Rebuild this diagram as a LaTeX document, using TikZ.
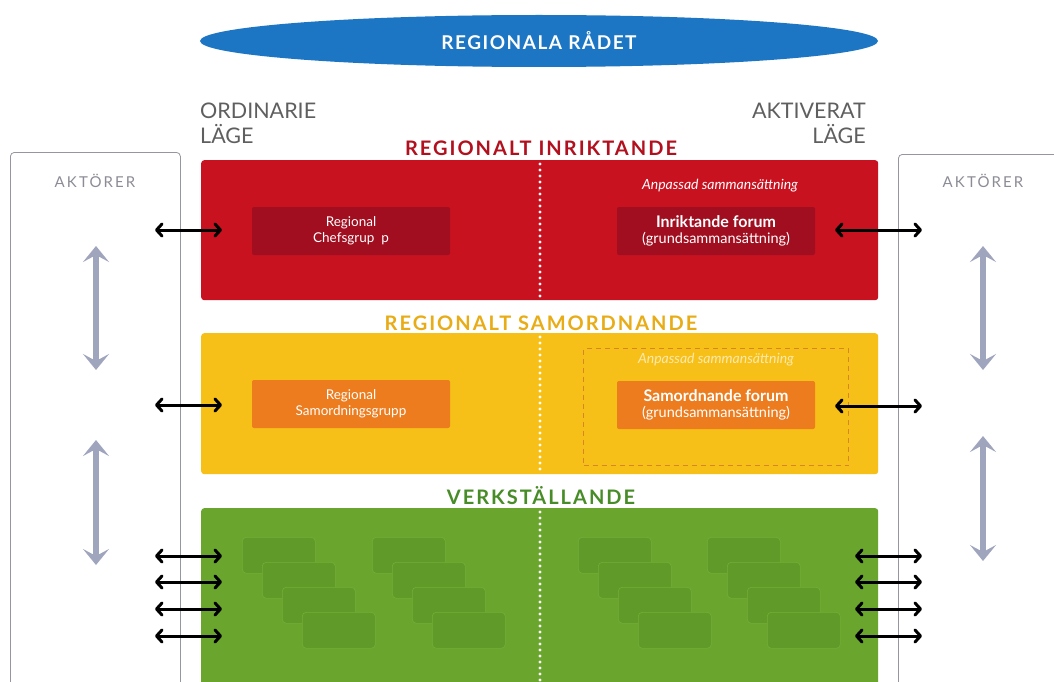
\documentclass[tikz,border=0pt]{standalone}
\usepackage{fontspec}
\setmainfont{Lato}
\usetikzlibrary{arrows.meta,shapes.geometric}
\definecolor{rblue}{RGB}{28,118,196}
\definecolor{rred}{RGB}{200,18,32}
\definecolor{rredbox}{RGB}{160,14,32}
\definecolor{rredtxt}{RGB}{178,16,30}
\definecolor{ryel}{RGB}{246,192,24}
\definecolor{rorange}{RGB}{236,124,30}
\definecolor{rdash}{RGB}{214,134,38}
\definecolor{ryeltxt}{RGB}{232,172,22}
\definecolor{rgreen}{RGB}{106,166,46}
\definecolor{rgreenbox}{RGB}{96,154,40}
\definecolor{rgreenedge}{RGB}{116,174,56}
\definecolor{rgreentxt}{RGB}{72,140,40}
\definecolor{rgraytxt}{RGB}{95,95,95}
\definecolor{raktxt}{RGB}{140,140,150}
\definecolor{rgrayarrow}{RGB}{160,165,190}
\definecolor{rboxline}{RGB}{150,150,160}
\begin{document}
\begin{tikzpicture}[x=1pt,y=-1pt,
  band/.style={fill=#1,draw=none,rounded corners=3pt,anchor=north west,inner sep=0pt},
  inbox/.style={fill=#1,draw=none,rounded corners=2pt,minimum width=198pt,minimum height=48pt,inner sep=0pt,text=white,align=center,font=\fontsize{13.5}{16}\selectfont},
  gbox/.style={fill=rgreenbox,draw=rgreenedge,line width=0.6pt,rounded corners=4pt,minimum width=73pt,minimum height=36pt,anchor=north west,inner sep=0pt},
  actorbox/.style={draw=rboxline,line width=0.8pt,rounded corners=4pt,fill=white,anchor=north west,inner sep=0pt},
  aktlabel/.style={text=raktxt,font=\fontsize{15}{17}\selectfont\addfontfeature{LetterSpace=14}},
  levtitle/.style={text=#1,font=\fontsize{20}{22}\selectfont\bfseries\addfontfeature{LetterSpace=10}},
  mode/.style={text=rgraytxt,font=\fontsize{21.5}{25}\selectfont,inner sep=0pt},
  dotline/.style={white,line width=3.4pt,line cap=round,dash pattern=on 0pt off 6pt},
  biarrow/.style={black,line width=3pt,{Straight Barb[length=5.5pt,width=12pt,line cap=round,line join=round]}-{Straight Barb[length=5.5pt,width=12pt,line cap=round,line join=round]}},
  grayarrow/.style={rgrayarrow,line width=6pt,{Stealth[length=16pt,width=26pt,inset=7pt]}-{Stealth[length=16pt,width=26pt,inset=7pt]}},
  note/.style={text=#1,font=\fontsize{14}{16}\selectfont\itshape}
]
\useasboundingbox (0,0) rectangle (1054,682);
\clip (0,0) rectangle (1054,682);
\fill[white] (0,0) rectangle (1054,682);

% Regional council
\node[ellipse,fill=rblue,minimum width=678pt,minimum height=52pt,inner sep=0pt,text=white,
  font=\fontsize{19}{21}\selectfont\bfseries\addfontfeature{LetterSpace=8}] (rad) at (539,41) {REGIONALA RÅDET};

% mode labels
\node[mode,anchor=north west,align=left] (ord) at (200,103) {ORDINARIE\\LÄGE};
\node[mode,anchor=north east,align=right] (akt) at (866,103) {AKTIVERAT\\LÄGE};

% actor boxes
\node[actorbox,minimum width=170pt,minimum height=560pt] (aktL) at (10,152) {};
\node[actorbox,minimum width=180pt,minimum height=560pt] (aktR) at (898,154) {};
\node[aktlabel] (aktLt) at (95,181) {AKTÖRER};
\node[aktlabel] (aktRt) at (983,181) {AKTÖRER};

% gray vertical arrows
\coordinate (la1) at (96,246); \coordinate (la2) at (96,370);
\coordinate (la3) at (96,440); \coordinate (la4) at (96,565);
\coordinate (ra1) at (983,246); \coordinate (ra2) at (983,370);
\coordinate (ra3) at (983,436); \coordinate (ra4) at (983,561);
\draw[grayarrow] (la1) -- (la2);
\draw[grayarrow] (la3) -- (la4);
\draw[grayarrow] (ra1) -- (ra2);
\draw[grayarrow] (ra3) -- (ra4);

% level titles
\node[levtitle=rredtxt] (t1) at (541,148) {REGIONALT INRIKTANDE};
\node[levtitle=ryeltxt] (t2) at (541,323) {REGIONALT SAMORDNANDE};
\node[levtitle=rgreentxt] (t3) at (541,496) {VERKSTÄLLANDE};

% bands
\node[band=rred,minimum width=677pt,minimum height=140pt] (red) at (201,160) {};
\node[band=ryel,minimum width=677pt,minimum height=141pt] (yel) at (201,333) {};
\node[band=rgreen,minimum width=677pt,minimum height=200pt] (grn) at (201,508) {};

% dotted separators
\draw[dotline] (540,164) -- (540,299);
\draw[dotline] (540,337) -- (540,473);
\draw[dotline] (540,512) -- (540,682);

% red level
\node[inbox=rredbox] (chef) at (351,231) {Regional\\Chefsgrup\ \ p};
\node[inbox=rredbox] (inrf) at (716,231) {{\fontsize{16}{18}\selectfont\bfseries Inriktande forum}\\{\fontsize{14.5}{17}\selectfont(grundsammansättning)}};
\node[note=white] (anp1) at (720,186) {Anpassad sammansättning};

% yellow level
\node[draw=rdash,line width=1.4pt,dash pattern=on 5pt off 4pt,minimum width=265pt,minimum height=117pt,anchor=north west,inner sep=0pt] (dbox) at (583,348) {};
\node[note=white!65!ryel] (anp2) at (716,360) {Anpassad sammansättning};
\node[inbox=rorange] (samg) at (351,404) {Regional\\Samordningsgrupp};
\node[inbox=rorange] (samf) at (716,405) {{\fontsize{16}{18}\selectfont\bfseries Samordnande forum}\\{\fontsize{14.5}{17}\selectfont(grundsammansättning)}};

% green inner blocks
\foreach \gx [count=\g] in {242,372,578,707}{
  \foreach \k in {0,1,2,3}{
    \node[gbox] (gb\g\k) at ({\gx+20*\k},{537+25*\k}) {};
  }
}

% black arrows
\coordinate (lr1) at (155,230); \coordinate (lr2) at (222,230);
\coordinate (ly1) at (155,405); \coordinate (ly2) at (222,405);
\coordinate (rr1) at (835,230); \coordinate (rr2) at (922,230);
\coordinate (ry1) at (835,406); \coordinate (ry2) at (922,406);
\draw[biarrow] (lr1) -- (lr2);
\draw[biarrow] (ly1) -- (ly2);
\draw[biarrow] (rr1) -- (rr2);
\draw[biarrow] (ry1) -- (ry2);
\foreach \yy [count=\i] in {556,582,609,636}{
  \coordinate (gl\i a) at (155,\yy); \coordinate (gl\i b) at (222,\yy);
  \coordinate (gr\i a) at (855,\yy); \coordinate (gr\i b) at (922,\yy);
  \draw[biarrow] (gl\i a) -- (gl\i b);
  \draw[biarrow] (gr\i a) -- (gr\i b);
}
\end{tikzpicture}
\end{document}
